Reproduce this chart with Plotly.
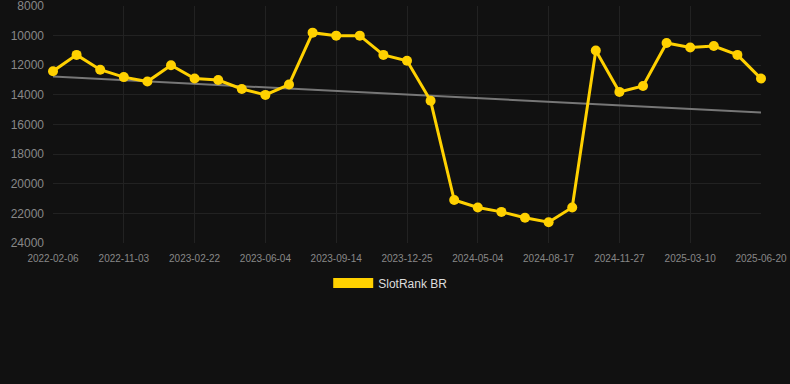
import numpy as np
import plotly.graph_objects as go

dates = [
    "2022-02-06", "2022-05-01", "2022-08-02", "2022-11-03", "2022-12-10", "2023-01-16",
    "2023-02-22", "2023-03-28", "2023-05-01", "2023-06-04", "2023-07-08", "2023-08-11",
    "2023-09-14", "2023-10-18", "2023-11-21", "2023-12-25", "2024-02-11", "2024-03-24",
    "2024-05-04", "2024-06-08", "2024-07-13", "2024-08-17", "2024-09-19", "2024-10-24",
    "2024-11-27", "2024-12-31", "2025-02-04", "2025-03-10", "2025-04-13", "2025-05-17",
    "2025-06-20",
]
rank = [
    12400, 11300, 12300, 12800, 13100, 12000,
    12900, 13000, 13600, 14000, 13300, 9800,
    10000, 10000, 11300, 11700, 14400, 21100,
    21600, 21900, 22300, 22600, 21600, 11000,
    13800, 13400, 10500, 10800, 10700, 11300,
    12900,
]
tick_labels = dates[::3]
y_ticks = [8000, 10000, 12000, 14000, 16000, 18000, 20000, 22000, 24000]

idx = np.arange(len(rank))
slope, intercept = np.polyfit(idx, rank, 1)
trend = slope * idx + intercept

YELLOW = "#FFD100"
BG = "#111111"

fig = go.Figure()
fig.add_trace(go.Scatter(
    x=dates, y=trend, mode="lines",
    line=dict(color="#777777", width=2),
    showlegend=False, hoverinfo="skip",
))
fig.add_trace(go.Scatter(
    x=dates, y=rank, mode="lines+markers",
    line=dict(color=YELLOW, width=3),
    marker=dict(color=YELLOW, size=10),
    showlegend=False, cliponaxis=False, name="SlotRank BR",
))
fig.add_trace(go.Scatter(
    x=[None], y=[None], mode="lines",
    line=dict(color=YELLOW, width=12),
    name="SlotRank BR",
))

fig.update_layout(
    width=790, height=384,
    paper_bgcolor=BG, plot_bgcolor=BG,
    margin=dict(l=53, r=29, t=6, b=141, autoexpand=False),
    font=dict(family="Arial, Liberation Sans, sans-serif", color="#999999"),
    legend=dict(
        orientation="h", x=0.477, xanchor="center", y=-0.108, yanchor="top",
        font=dict(size=12, color="#dddddd"), itemwidth=40,
    ),
    xaxis=dict(
        type="category", range=[0, len(dates) - 1],
        tickmode="array", tickvals=tick_labels, ticktext=tick_labels,
        tickfont=dict(size=10, color="#888888"),
        showgrid=True, gridcolor="#222222", zeroline=False,
        showline=False, ticks="", ticklabelstandoff=8,
    ),
    yaxis=dict(
        range=[24000, 8000], tickmode="array", tickvals=y_ticks,
        ticktext=[str(v) for v in y_ticks],
        tickfont=dict(size=12, color="#888888"),
        showgrid=True, gridcolor="#222222", zeroline=False,
        showline=False, ticks="", ticklabelstandoff=8,
        ticklabeloverflow="allow",
    ),
)

fig.write_html(
    "out.html",
    config={"displayModeBar": False},
    post_script="document.body.style.margin='0';document.body.style.background='#111111';",
)
